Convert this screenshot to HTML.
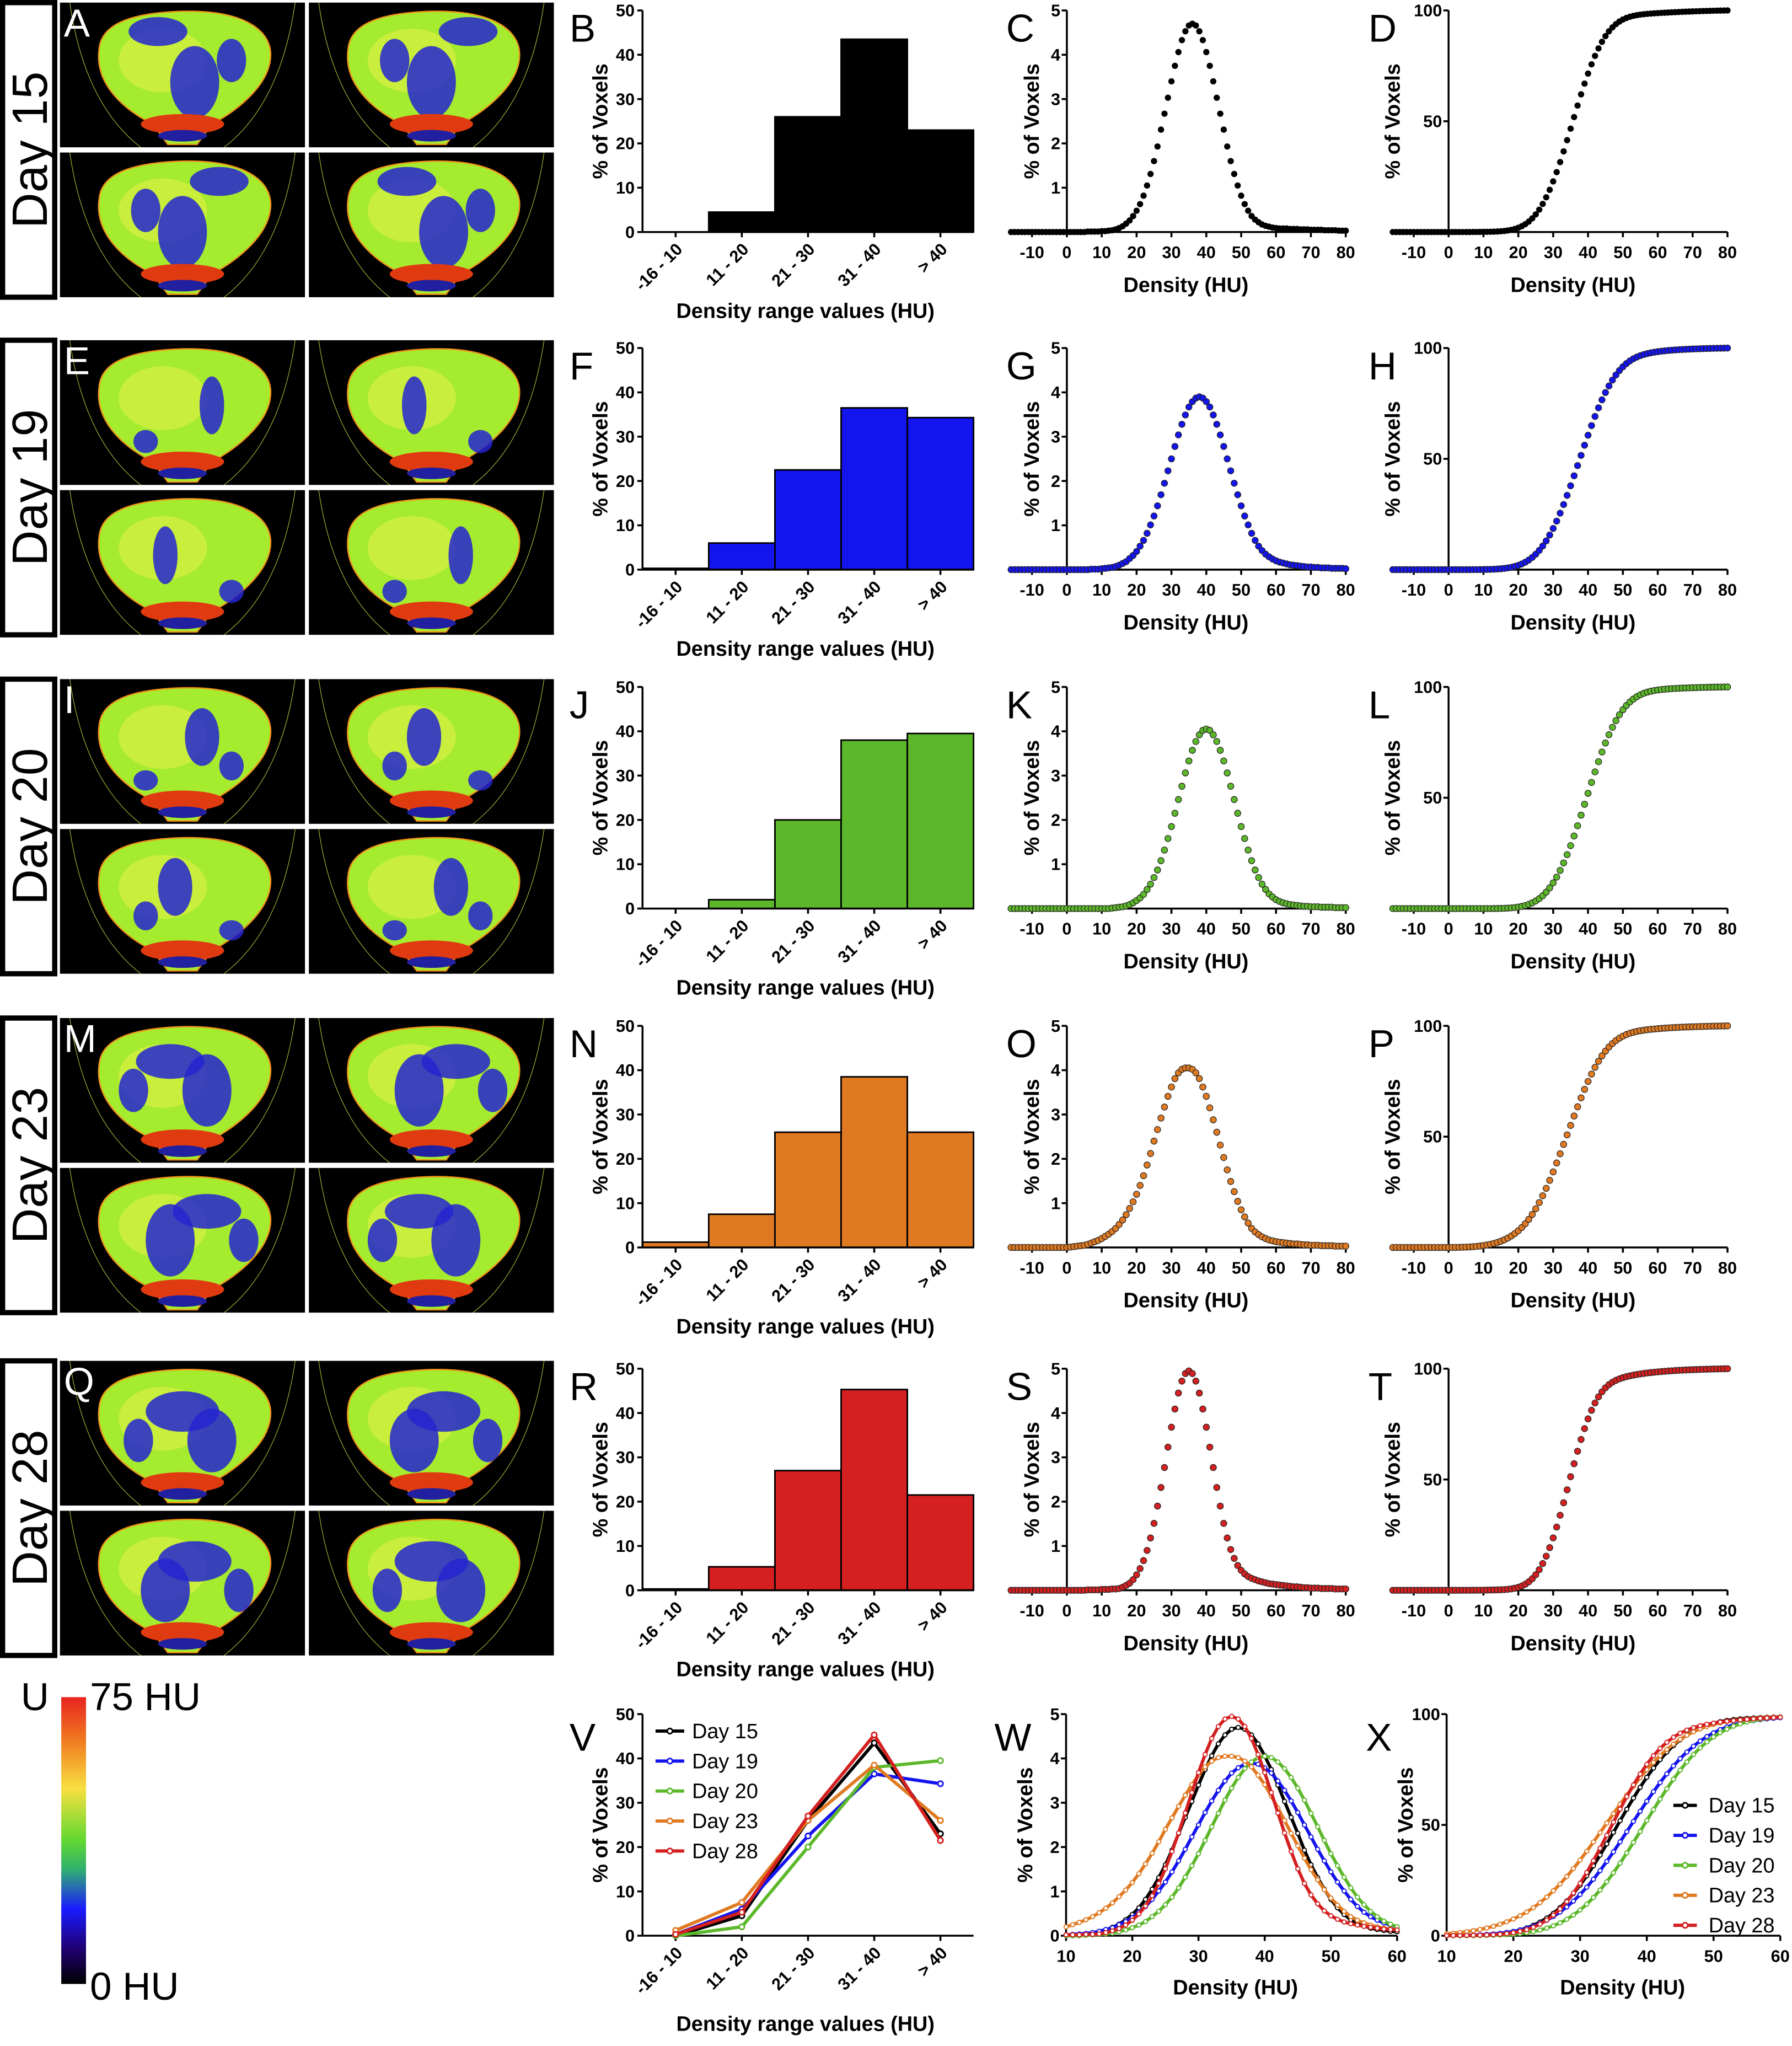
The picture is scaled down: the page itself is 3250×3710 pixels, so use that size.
<!DOCTYPE html>
<html><head><meta charset="utf-8">
<style>
html,body{margin:0;padding:0;background:#fff;}
svg{display:block;}
text{font-family:"Liberation Sans Narrow","Liberation Sans",sans-serif;}
</style></head>
<body>
<svg id="fig" xmlns="http://www.w3.org/2000/svg" width="3250" height="3710" viewBox="0 0 1375 1569.6">
<defs>
<linearGradient id="cbar" x1="0" y1="0" x2="0" y2="1">
<stop offset="0" stop-color="#e8231f"/><stop offset="0.15" stop-color="#f07a20"/><stop offset="0.32" stop-color="#f8e040"/>
<stop offset="0.5" stop-color="#60d830"/><stop offset="0.6" stop-color="#30b070"/><stop offset="0.74" stop-color="#1a1aff"/>
<stop offset="0.88" stop-color="#200070"/><stop offset="1" stop-color="#000"/>
</linearGradient>
</defs>
</svg>
<script>
// ---- data ----
const categories = ["-16 - 10","11 - 20","21 - 30","31 - 40","> 40"];
const dayNames = ["Day 15","Day 19","Day 20","Day 23","Day 28"];
const hist15 = [0, 4.5, 26, 43.5, 23];
const hist19 = [0.3, 6, 22.5, 36.5, 34.3];
const hist20 = [0, 2, 20, 38, 39.5];
const hist23 = [1.2, 7.5, 26, 38.5, 26];
const hist28 = [0.3, 5.3, 27, 45.3, 21.5];
const huStart = -16;
const dens15 = [0,0,0,0,0,0,0,0,0,0,0,0,0,0,0,0,
 0,0,0,0,0,0,0.01,0.01,0.01,0.01,0.02,0.02,0.03,0.04,0.06,0.09,
 0.13,0.19,0.26,0.36,0.48,0.63,0.82,1.05,1.31,1.60,1.93,2.31,2.67,3.03,3.4,3.75,4.06,4.33,4.53,4.66,4.7,4.66,4.53,4.33,4.06,3.75,3.4,3.03,2.67,2.31,1.93,1.60,1.31,1.05,0.82,0.63,0.48,0.36,0.28,0.22,0.17,0.14,0.12,0.1,0.09,
 0.08,0.08,0.08,0.07,0.07,0.07,0.06,0.06,0.06,0.05,0.05,0.05,0.05,0.04,0.04,0.04,0.04,0.03,0.03,0.03];
const dens19 = [0,0,0,0,0,0,0,0,0,0,0,0,0,0,0,0,
 0,0,0,0,0,0,0,0.01,0.01,0.01,0.02,0.03,0.04,
 0.05,0.07,0.10,0.14,0.18,0.25,0.32,0.41,0.53,0.66,0.82,1.01,1.21,1.44,1.69,1.95,2.23,2.50,2.78,3.04,3.28,3.49,3.67,3.79,3.87,3.9,3.87,3.79,3.67,3.49,3.28,3.04,2.78,2.50,2.23,1.95,1.69,1.44,1.21,1.01,0.82,0.66,0.53,0.43,0.35,0.29,0.24,0.2,
 0.17,0.15,0.13,0.11,0.10,0.09,0.08,0.07,0.06,0.06,0.05,0.05,0.04,0.04,0.04,0.03,0.03,0.03,0.03,0.02];
const dens20 = [0,0,0,0,0,0,0,0,0,0,0,0,0,0,0,0,
 0,0,0,0,0,0,0,0,0,0,0,0,0,0.01,0.02,0.03,0.04,0.06,
 0.09,0.13,0.18,0.24,0.32,0.43,0.55,0.70,0.87,1.08,1.32,1.58,1.85,2.15,2.46,2.76,3.06,3.33,3.57,3.77,3.92,4.02,4.05,4.02,3.92,3.77,3.57,3.33,3.06,2.76,2.46,2.15,1.85,1.58,1.32,1.08,0.87,0.70,0.55,0.43,0.33,0.26,0.2,
 0.16,0.13,0.11,0.09,0.08,0.07,0.06,0.05,0.05,0.04,0.04,0.04,0.03,0.03,0.03,0.03,0.02,0.02,0.02,0.02];
const dens23 = [0,0,0,0,0,0,0,0,0,0,0,0,0,0,0,0,
 0,0.01,0.02,0.03,0.04,
 0.05,0.07,0.1,0.13,0.16,0.2,0.25,0.3,0.36,0.43,0.52,0.62,0.74,0.88,1.03,1.2,1.4,1.62,1.86,2.12,2.4,2.66,2.92,3.17,3.41,3.62,3.81,3.94,4.02,4.05,4.05,4.02,3.94,3.81,3.62,3.41,3.15,2.88,2.60,2.31,2.03,1.75,1.49,1.26,1.04,0.85,0.69,0.55,0.43,0.35,0.29,0.24,0.2,0.17,0.15,0.13,
 0.12,0.11,0.1,0.09,0.08,0.08,0.07,0.06,0.06,0.05,0.05,0.05,0.04,0.04,0.04,0.04,0.03,0.03,0.03,0.03];
const dens28 = [0,0,0,0,0,0,0,0,0,0,0,0,0,0,0,0,
 0,0,0,0,0,0,0.01,0.01,0.01,0.01,0.02,0.02,0.02,0.03,0.03,
 0.04,0.07,0.11,0.16,0.24,0.35,0.49,0.67,0.90,1.18,1.51,1.90,2.32,2.77,3.23,3.68,4.09,4.45,4.72,4.89,4.95,4.89,4.72,4.45,4.09,3.68,3.23,2.77,2.32,1.90,1.51,1.18,0.92,0.72,0.56,0.45,0.37,0.31,0.27,0.24,0.21,0.19,0.17,0.15,0.14,0.13,
 0.12,0.11,0.1,0.09,0.08,0.08,0.07,0.06,0.06,0.05,0.05,0.05,0.04,0.04,0.04,0.04,0.03,0.03,0.03,0.03];
const histTicks = [0,10,20,30,40,50];
const densTicksY = [1,2,3,4,5];
const densTicksX = [-10,0,10,20,30,40,50,60,70,80];
const cumTicksY = [50,100];
const overlayTicksX = [10,20,30,40,50,60];
const overlayDensTicksY = [0,1,2,3,4,5];
const overlayCumTicksY = [0,50,100];

const hists = [hist15,hist19,hist20,hist23,hist28];
const denss = [dens15,dens19,dens20,dens23,dens28];
const colors = ["#000000","#1414ee","#5cb82a","#e07a22","#d42020"];
const letters = [["A","B","C","D"],["E","F","G","H"],["I","J","K","L"],["M","N","O","P"],["Q","R","S","T"]];
const rowTops = [8,267,527,787,1050];

function cumulative(d){ const tot=d.reduce((a,b)=>a+b,0); let s=0; return d.map(v=>{s+=v; return s/tot*100;}); }

const NS='http://www.w3.org/2000/svg';
const svg=document.getElementById('fig');
function mk(parent, tag, attrs, text){ const e=document.createElementNS(NS,tag); for(const k in attrs) e.setAttribute(k,attrs[k]); if(text!=null) e.textContent=text; parent.appendChild(e); return e; }

// ---- brain images ----
const brainPath="M0.5,0.06 C0.76,0.05 0.86,0.2 0.86,0.36 C0.86,0.56 0.73,0.74 0.62,0.84 L0.56,0.98 L0.44,0.98 L0.38,0.84 C0.26,0.74 0.14,0.56 0.16,0.32 C0.17,0.14 0.3,0.07 0.5,0.06Z";
const blueSets=[
 [[0.55,0.55,0.1,0.25],[0.4,0.2,0.12,0.1],[0.7,0.4,0.06,0.15]],
 [[0.62,0.45,0.05,0.2],[0.35,0.7,0.05,0.08]],
 [[0.58,0.4,0.07,0.2],[0.7,0.6,0.05,0.1],[0.35,0.7,0.05,0.07]],
 [[0.45,0.3,0.14,0.12],[0.6,0.5,0.1,0.25],[0.3,0.5,0.06,0.15]],
 [[0.5,0.35,0.15,0.14],[0.62,0.55,0.1,0.22],[0.32,0.55,0.06,0.15]]
];
function brain(x,y,w,h,r,flip){
 const g=mk(svg,'g',{transform:`translate(${x},${y}) scale(${w},${h})`});
 
 
 mk(g,'rect',{x:0,y:0,width:1,height:1,fill:'#000'});
 mk(g,'path',{d:"M0.04,0 Q0.1,0.7 0.33,1",fill:'none',stroke:'#c8d040','stroke-width':1,'vector-effect':'non-scaling-stroke'});
 mk(g,'path',{d:"M0.96,0 Q0.9,0.7 0.67,1",fill:'none',stroke:'#c8d040','stroke-width':1,'vector-effect':'non-scaling-stroke'});
 mk(g,'path',{d:brainPath,fill:'#a6ec2e',stroke:'#f09018','stroke-width':2.5,'vector-effect':'non-scaling-stroke'});
 mk(g,'ellipse',{cx:0.42,cy:0.4,rx:0.18,ry:0.22,fill:'#e8f048',opacity:0.55});
 const bs=blueSets[r];
 bs.forEach((b,i)=>{ const cx=flip? 1-b[0]+0.05 : b[0];
  mk(g,'ellipse',{cx:cx,cy:b[1],rx:b[2],ry:b[3],fill:'#2424d0',opacity:0.85}); });
 mk(g,'ellipse',{cx:0.5,cy:0.84,rx:0.17,ry:0.07,fill:'#e03a10'});
 mk(g,'ellipse',{cx:0.5,cy:0.92,rx:0.1,ry:0.04,fill:'#2020a0'});
}
for(let r=0;r<5;r++){
 const T=rowTops[r]-6;
 brain(46,T,188,111,r,false);
 brain(237,T,188,111,r,true);
 brain(46,T+115,188,111,r,true);
 brain(237,T+115,188,111,r,false);
 const lt=mk(svg,'text',{x:49,y:T+26,'font-size':30,fill:'#fff','font-family':'Liberation Sans, sans-serif'},letters[r][0]);
 
 
 const box=mk(svg,'rect',{x:2,y:T,width:40,height:226,fill:'#fff',stroke:'#000','stroke-width':4});
 
 
 const dt=mk(svg,'text',{x:0,y:0,'font-size':38,'text-anchor':'middle',transform:`translate(36,${T+113}) rotate(-90)`,'font-family':'Liberation Sans, sans-serif'},dayNames[r]);
 
 
}

function txt(x,y,s,size,opts){ const a=Object.assign({x:x,y:y,'font-size':size,'font-weight':'bold'},opts||{}); return mk(svg,'text',a,s); }
function line(x1,y1,x2,y2,w){ return mk(svg,'line',{x1:x1,y1:y1,x2:x2,y2:y2,stroke:'#000','stroke-width':w||1.5}); }
function letter(x,y,s){ const e=mk(svg,'text',{x:x,y:y,'font-size':30,'font-family':'Liberation Sans, sans-serif'},s);
 
 
}
function ytitle(x,cy){ const e=txt(0,0,'% of Voxels',16,{'text-anchor':'middle',transform:`translate(${x},${cy}) rotate(-90)`,'font-family':'Liberation Sans, sans-serif'});
 
 
}

// ---- histogram panels ----
const hx0=493, hbw=50.8;
function histPanel(T,vals,color,L){
 const bot=T+170; const ys=v=>bot-v/50*170;
 letter(437,T+24,L);
 vals.forEach((v,i)=>{
  const b=mk(svg,'rect',{x:hx0+i*hbw,y:ys(v),width:hbw,height:bot-ys(v),fill:color,stroke:'#000','stroke-width':1.2});
  
  
 });
 const ya=line(hx0,T,hx0,bot);  
 const xa=line(hx0,bot,hx0+5*hbw,bot);  
 histTicks.forEach(t=>{ line(hx0-4,ys(t),hx0,ys(t));
  const e=txt(hx0-6,ys(t)+4.5,String(t),13,{'text-anchor':'end'});
  
  
 });
 categories.forEach((c,i)=>{ const cx=hx0+(i+0.5)*hbw; line(cx,bot,cx,bot+4);
  const e=txt(0,0,c,13,{'text-anchor':'end',transform:`translate(${cx+6},${bot+14}) rotate(-45)`});
  
  
 });
 const xt=txt(618,T+236,'Density range values (HU)',16,{'text-anchor':'middle','font-family':'Liberation Sans, sans-serif'});
 
 
 ytitle(466,T+85);
}

// ---- density panels ----
function densPanel(T,d,color,L){
 const bot=T+170; const xs=v=>818.6+2.675*v; const ys=v=>bot-v/5*170;
 letter(772,T+24,L);
 const ya=line(xs(0),T,xs(0),bot);  
 const xa=line(xs(-16),bot,xs(80),bot);  
 densTicksY.forEach(t=>{ line(xs(0)-4,ys(t),xs(0),ys(t));
  const e=txt(xs(0)-5,ys(t)+4.5,String(t),13,{'text-anchor':'end'});
  
  
 });
 densTicksX.forEach(t=>{ line(xs(t),bot,xs(t),bot+4);
  const e=txt(xs(t),bot+20,String(t),13,{'text-anchor':'middle'});
  
  
 });
 d.forEach((v,i)=>{ const c=mk(svg,'circle',{cx:xs(huStart+i),cy:ys(v),r:2.4,fill:color,stroke:color==='#000000'?'none':'#222','stroke-width':0.5});
  
  
 });
 const xt=txt(910,bot+46,'Density (HU)',16,{'text-anchor':'middle','font-family':'Liberation Sans, sans-serif'});
 
 
 ytitle(797,T+85);
}
function cumPanel(T,d,color,L){
 const bot=T+170; const xs=v=>1111.5+2.675*v; const ys=v=>bot-v/100*170;
 letter(1050,T+24,L);
 const ya=line(xs(0),T,xs(0),bot);  
 const xa=line(xs(-16),bot,xs(80),bot);  
 cumTicksY.forEach(t=>{ line(xs(0)-4,ys(t),xs(0),ys(t));
  const e=txt(xs(0)-5,ys(t)+4.5,String(t),13,{'text-anchor':'end'});
  
  
 });
 densTicksX.forEach(t=>{ line(xs(t),bot,xs(t),bot+4);
  const e=txt(xs(t),bot+20,String(t),13,{'text-anchor':'middle'});
  
  
 });
 cumulative(d).forEach((v,i)=>{ const c=mk(svg,'circle',{cx:xs(huStart+i),cy:ys(v),r:2.4,fill:color,stroke:color==='#000000'?'none':'#222','stroke-width':0.5});
  
  
 });
 const xt=txt(1207,bot+46,'Density (HU)',16,{'text-anchor':'middle','font-family':'Liberation Sans, sans-serif'});
 
 
 ytitle(1074,T+85);
}
for(let r=0;r<5;r++){
 histPanel(rowTops[r],hists[r],colors[r],letters[r][1]);
 densPanel(rowTops[r],denss[r],colors[r],letters[r][2]);
 cumPanel(rowTops[r],denss[r],colors[r],letters[r][3]);
}

// ---- colorbar ----
const cb=mk(svg,'rect',{x:47,y:1302,width:19,height:220,fill:'url(#cbar)'});


letter(16,1312,'U');
const c75=mk(svg,'text',{x:69,y:1312,'font-size':30,'font-family':'Liberation Sans, sans-serif'},'75 HU');


const c0=mk(svg,'text',{x:69,y:1534,'font-size':30,'font-family':'Liberation Sans, sans-serif'},'0 HU');



// ---- overlay V ----
const BT=1315, BB=1485;
(function(){
 const ys=v=>BB-v/50*170;
 letter(437,BT+28,'V');
 const ya=line(hx0,BT,hx0,BB);  
 const xa=line(hx0,BB,hx0+5*hbw,BB);  
 histTicks.forEach(t=>{ line(hx0-4,ys(t),hx0,ys(t));
  const e=txt(hx0-6,ys(t)+4.5,String(t),13,{'text-anchor':'end'});
  
  
 });
 categories.forEach((c,i)=>{ const cx=hx0+(i+0.5)*hbw; line(cx,BB,cx,BB+4);
  const e=txt(0,0,c,13,{'text-anchor':'end',transform:`translate(${cx+6},${BB+14}) rotate(-45)`});
  
  
 });
 hists.forEach((h,s)=>{
  const pts=h.map((v,i)=>`${hx0+(i+0.5)*hbw},${ys(v)}`).join(' ');
  const pl=mk(svg,'polyline',{points:pts,fill:'none',stroke:colors[s],'stroke-width':2.5});
  
  
  h.forEach((v,i)=>{ const c=mk(svg,'circle',{cx:hx0+(i+0.5)*hbw,cy:ys(v),r:2,fill:'#fff',stroke:colors[s],'stroke-width':1.2});
   
   
  });
  const ly=1328+s*23;
  const ll=mk(svg,'line',{x1:503,y1:ly,x2:525,y2:ly,stroke:colors[s],'stroke-width':2.5});
  
  
  mk(svg,'circle',{cx:514,cy:ly,r:2,fill:'#fff',stroke:colors[s],'stroke-width':1.2});
  const lt=mk(svg,'text',{x:531,y:ly+5.5,'font-size':16,'font-family':'Liberation Sans, sans-serif'},dayNames[s]);
  
  
 });
 const xt=txt(618,1558,'Density range values (HU)',16,{'text-anchor':'middle','font-family':'Liberation Sans, sans-serif'});
 
 
 ytitle(466,BT+85);
})();

// ---- overlay W / X ----
function overlay(x0,k,ymax,yticks,cum,L,tx,legend){
 const xs=v=>x0+(v-10)*k; const ys=v=>BB-v/ymax*170;
 letter(L==='W'?763:1048,BT+28,L);
 const ya=line(x0,BT,x0,BB);  
 const xa=line(x0,BB,xs(60),BB);  
 yticks.forEach(t=>{ line(x0-4,ys(t),x0,ys(t));
  const e=txt(x0-5,ys(t)+4.5,String(t),13,{'text-anchor':'end'});
  
  
 });
 overlayTicksX.forEach(t=>{ line(xs(t),BB,xs(t),BB+4);
  const e=txt(xs(t),BB+20,String(t),13,{'text-anchor':'middle'});
  
  
 });
 denss.forEach((d,s)=>{
  const vals=cum?cumulative(d):d;
  const pts=[];
  vals.forEach((v,i)=>{ const hu=huStart+i; if(hu>=10&&hu<=60) pts.push([xs(hu),ys(v)]); });
  const pl=mk(svg,'polyline',{points:pts.map(p=>p.join(',')).join(' '),fill:'none',stroke:colors[s],'stroke-width':2.5});
  
  
  pts.forEach(p=>{ const c=mk(svg,'circle',{cx:p[0],cy:p[1],r:1.6,fill:'#fff',stroke:colors[s],'stroke-width':0.8});
   
   
  });
  if(legend){
   const ly=1385+s*23;
   const ll=mk(svg,'line',{x1:1284,y1:ly,x2:1302,y2:ly,stroke:colors[s],'stroke-width':2.5});
   
   
   mk(svg,'circle',{cx:1293,cy:ly,r:2,fill:'#fff',stroke:colors[s],'stroke-width':1.2});
   const lt=mk(svg,'text',{x:1311,y:ly+5.5,'font-size':16,'font-family':'Liberation Sans, sans-serif'},dayNames[s]);
   
   
  }
 });
 const xt=txt(tx,1530,'Density (HU)',16,{'text-anchor':'middle','font-family':'Liberation Sans, sans-serif'});
 
 
 ytitle(x0-26,BT+85);
}
overlay(818,5.08,5,overlayDensTicksY,false,'W',948,false);
overlay(1110,5.12,100,overlayCumTicksY,true,'X',1245,true);
</script>
</body></html>
